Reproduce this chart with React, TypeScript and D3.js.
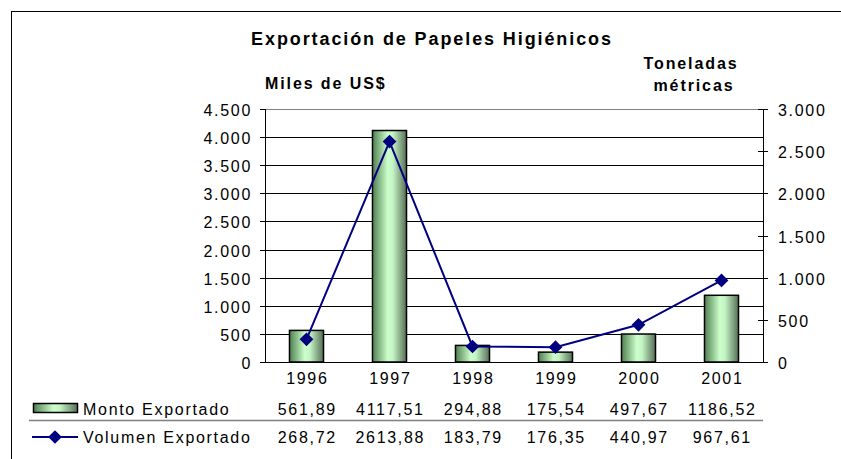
import React, { useEffect, useRef } from 'react';
import * as d3 from 'd3';

const years = ['1996', '1997', '1998', '1999', '2000', '2001'];
const montoExportado = [561.89, 4117.51, 294.88, 175.54, 497.67, 1186.52];
const volumenExportado = [268.72, 2613.88, 183.79, 176.35, 440.97, 967.61];
const leftTicks = [0, 500, 1000, 1500, 2000, 2500, 3000, 3500, 4000, 4500];
const rightTicks = [0, 500, 1000, 1500, 2000, 2500, 3000];

const fmtTick = (v: number) => d3.format(',')(v).replace(/,/g, '.');
const fmtVal = (v: number) => v.toFixed(2).replace('.', ',');

const App = () => {
  const svgRef = useRef<SVGSVGElement>(null);

  useEffect(() => {
    const svg = d3.select(svgRef.current);
    svg.selectAll('*').remove();

    const font = 'Arial, "Liberation Sans", sans-serif';
    const left = 265, right = 763, top = 109, bottom = 362;
    const ls = 1.7; // letter spacing for the stretched look

    const x = d3.scaleBand().domain(years).range([left, right]);
    const yL = d3.scaleLinear().domain([0, 4500]).range([bottom, top]);
    const yR = d3.scaleLinear().domain([0, 3000]).range([bottom, top]);
    const barW = x.bandwidth() * 0.41;
    const cx = (d: string) => (x(d) as number) + x.bandwidth() / 2;

    const defs = svg.append('defs');
    const grad = defs.append('linearGradient').attr('id', 'barGrad')
      .attr('x1', '0%').attr('x2', '100%').attr('y1', '0%').attr('y2', '0%');
    grad.append('stop').attr('offset', '0%').attr('stop-color', '#4f7f4f');
    grad.append('stop').attr('offset', '45%').attr('stop-color', '#ccffcc');
    grad.append('stop').attr('offset', '60%').attr('stop-color', '#c4f4c4');
    grad.append('stop').attr('offset', '100%').attr('stop-color', '#566e56');

    // outer frame
    svg.append('rect').attr('x', 11.5).attr('y', 11.5).attr('width', 900).attr('height', 600)
      .attr('fill', 'white').attr('stroke', 'black').attr('stroke-width', 1);

    // title and axis titles
    svg.append('text').attr('x', 432).attr('y', 45).attr('text-anchor', 'middle')
      .attr('font-family', font).attr('font-weight', 'bold').attr('font-size', 18)
      .attr('letter-spacing', 1.9).text('Exportación de Papeles Higiénicos');
    svg.append('text').attr('x', 265).attr('y', 89)
      .attr('font-family', font).attr('font-weight', 'bold').attr('font-size', 16)
      .attr('letter-spacing', 1.9).text('Miles de US$');
    svg.append('text').attr('x', 691).attr('y', 69).attr('text-anchor', 'middle')
      .attr('font-family', font).attr('font-weight', 'bold').attr('font-size', 16)
      .attr('letter-spacing', 1.9).text('Toneladas');
    svg.append('text').attr('x', 694).attr('y', 91).attr('text-anchor', 'middle')
      .attr('font-family', font).attr('font-weight', 'bold').attr('font-size', 16)
      .attr('letter-spacing', 1.9).text('métricas');

    // gridlines
    svg.append('g').selectAll('line').data(leftTicks.slice(1)).enter().append('line')
      .attr('x1', left).attr('x2', right)
      .attr('y1', (d) => Math.round(yL(d)) + 0.5).attr('y2', (d) => Math.round(yL(d)) + 0.5)
      .attr('stroke', (d) => (d === 4500 ? '#808080' : '#000')).attr('stroke-width', 1);

    // left axis
    const gl = svg.append('g').attr('font-family', font).attr('font-size', 16).attr('letter-spacing', ls);
    gl.append('line').attr('x1', left + 0.5).attr('x2', left + 0.5).attr('y1', top).attr('y2', bottom)
      .attr('stroke', 'black');
    leftTicks.forEach((t) => {
      const yy = Math.round(yL(t)) + 0.5;
      gl.append('line').attr('x1', left - 5).attr('x2', left).attr('y1', yy).attr('y2', yy).attr('stroke', 'black');
      gl.append('text').attr('x', 252).attr('y', yy + 6).attr('text-anchor', 'end').text(fmtTick(t));
    });

    // right axis
    const gr = svg.append('g').attr('font-family', font).attr('font-size', 16).attr('letter-spacing', ls);
    gr.append('line').attr('x1', right + 0.5).attr('x2', right + 0.5).attr('y1', top).attr('y2', bottom)
      .attr('stroke', 'black');
    rightTicks.forEach((t) => {
      const yy = Math.round(yR(t)) + 0.5;
      gr.append('line').attr('x1', right - 5).attr('x2', right + 5).attr('y1', yy).attr('y2', yy).attr('stroke', 'black');
      gr.append('text').attr('x', 778).attr('y', yy + 6).text(fmtTick(t));
    });

    // bars
    svg.append('g').selectAll('rect').data(montoExportado).enter().append('rect')
      .attr('x', (d, i) => cx(years[i]) - barW / 2)
      .attr('y', (d) => yL(d))
      .attr('width', barW)
      .attr('height', (d) => bottom - yL(d))
      .attr('fill', 'url(#barGrad)')
      .attr('stroke', 'black').attr('stroke-width', 1.5);

    // bottom axis line
    svg.append('line').attr('x1', left).attr('x2', right + 5).attr('y1', bottom + 0.5).attr('y2', bottom + 0.5)
      .attr('stroke', 'black');

    // line series
    const line = d3.line<number>().x((d, i) => cx(years[i])).y((d) => yR(d));
    svg.append('path').datum(volumenExportado).attr('d', line)
      .attr('fill', 'none').attr('stroke', '#000080').attr('stroke-width', 2);
    const diamond = d3.symbol().type(d3.symbolDiamond2).size(120);
    svg.append('g').selectAll('path').data(volumenExportado).enter().append('path')
      .attr('transform', (d, i) => `translate(${cx(years[i])},${yR(d)})`)
      .attr('d', diamond).attr('fill', '#000080');

    // data table
    const gt = svg.append('g').attr('font-family', font).attr('font-size', 16).attr('letter-spacing', ls);
    years.forEach((yr, i) => {
      const xx = cx(yr) + ls / 2;
      gt.append('text').attr('x', xx).attr('y', 384).attr('text-anchor', 'middle').text(yr);
      gt.append('text').attr('x', xx).attr('y', 415).attr('text-anchor', 'middle').text(fmtVal(montoExportado[i]));
      gt.append('text').attr('x', xx).attr('y', 443).attr('text-anchor', 'middle').text(fmtVal(volumenExportado[i]));
    });
    gt.append('line').attr('x1', 29).attr('x2', right).attr('y1', 420.5).attr('y2', 420.5)
      .attr('stroke', '#808080').attr('stroke-width', 1.5);

    // legend keys
    gt.append('rect').attr('x', 33.5).attr('y', 403.5).attr('width', 44).attr('height', 9)
      .attr('fill', 'url(#barGrad)').attr('stroke', 'black').attr('stroke-width', 1.5);
    gt.append('text').attr('x', 83).attr('y', 415).text('Monto Exportado');
    gt.append('line').attr('x1', 32).attr('x2', 78).attr('y1', 437).attr('y2', 437)
      .attr('stroke', '#000080').attr('stroke-width', 2);
    gt.append('path').attr('transform', 'translate(55,437)').attr('d', diamond).attr('fill', '#000080');
    gt.append('text').attr('x', 83).attr('y', 443).text('Volumen Exportado');
  }, []);

  return (
    <svg ref={svgRef} width={841} height={459}
      style={{ position: 'absolute', left: 0, top: 0, background: 'white' }} />
  );
};

export default App;
